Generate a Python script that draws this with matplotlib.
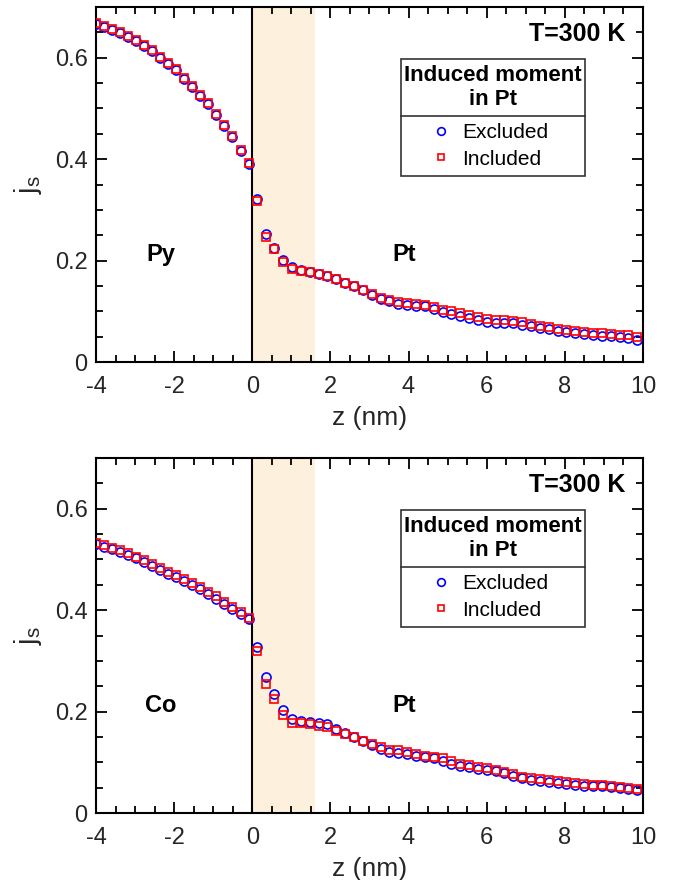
import matplotlib
matplotlib.use("Agg")
import matplotlib.pyplot as plt
from matplotlib.patches import Rectangle
from matplotlib.lines import Line2D

plt.rcParams['font.family'] = ['Liberation Sans', 'DejaVu Sans']
plt.rcParams['mathtext.fontset'] = 'custom'
plt.rcParams['mathtext.rm'] = 'Liberation Sans'
plt.rcParams['axes.unicode_minus'] = False

# layer positions (nm): ferromagnet side and Pt side
z_fm = [-4.000, -3.795, -3.589, -3.384, -3.178, -2.973, -2.767, -2.562, -2.356, -2.151,
        -1.945, -1.740, -1.534, -1.329, -1.123, -0.918, -0.712, -0.507, -0.301, -0.096]
z_pt = [0.113, 0.340, 0.566, 0.793, 1.019, 1.246, 1.472, 1.699, 1.925, 2.152,
        2.378, 2.605, 2.831, 3.058, 3.284, 3.511, 3.737, 3.964, 4.190, 4.417,
        4.643, 4.870, 5.096, 5.323, 5.549, 5.776, 6.002, 6.229, 6.455, 6.682,
        6.908, 7.135, 7.361, 7.588, 7.814, 8.041, 8.267, 8.494, 8.720, 8.947,
        9.173, 9.400, 9.626, 9.853]

# Py/Pt spin current
py_excl = [0.667, 0.661, 0.654, 0.648, 0.641, 0.633, 0.624, 0.613, 0.600, 0.588,
           0.575, 0.559, 0.543, 0.525, 0.508, 0.487, 0.466, 0.443, 0.416, 0.390]
py_incl = [0.669, 0.663, 0.656, 0.650, 0.643, 0.635, 0.626, 0.615, 0.602, 0.590,
           0.577, 0.561, 0.545, 0.527, 0.510, 0.489, 0.468, 0.445, 0.418, 0.392]
ptpy_excl = [0.322, 0.253, 0.225, 0.202, 0.187, 0.182, 0.178, 0.174, 0.170, 0.164,
             0.156, 0.149, 0.143, 0.133, 0.125, 0.120, 0.115, 0.112, 0.110, 0.110,
             0.105, 0.099, 0.095, 0.091, 0.086, 0.083, 0.079, 0.077, 0.077, 0.076,
             0.074, 0.071, 0.068, 0.065, 0.062, 0.060, 0.057, 0.055, 0.053, 0.052,
             0.051, 0.050, 0.048, 0.044]
ptpy_incl = [0.317, 0.246, 0.223, 0.197, 0.184, 0.180, 0.178, 0.174, 0.170, 0.163,
             0.155, 0.149, 0.143, 0.135, 0.127, 0.122, 0.118, 0.116, 0.114, 0.113,
             0.108, 0.103, 0.100, 0.096, 0.092, 0.088, 0.084, 0.082, 0.082, 0.081,
             0.079, 0.075, 0.072, 0.069, 0.066, 0.064, 0.062, 0.060, 0.058, 0.057,
             0.056, 0.054, 0.053, 0.049]

# Co/Pt spin current
co_excl = [0.530, 0.525, 0.520, 0.515, 0.509, 0.502, 0.495, 0.488, 0.480, 0.472,
           0.465, 0.457, 0.449, 0.441, 0.432, 0.423, 0.413, 0.403, 0.393, 0.382]
co_incl = [0.532, 0.528, 0.523, 0.518, 0.512, 0.505, 0.498, 0.491, 0.484, 0.476,
           0.469, 0.461, 0.453, 0.445, 0.436, 0.427, 0.417, 0.407, 0.397, 0.385]
ptco_excl = [0.328, 0.269, 0.235, 0.203, 0.185, 0.182, 0.180, 0.177, 0.175, 0.166,
             0.158, 0.150, 0.143, 0.134, 0.127, 0.121, 0.119, 0.116, 0.112, 0.110,
             0.108, 0.103, 0.097, 0.093, 0.090, 0.087, 0.085, 0.082, 0.078, 0.074,
             0.069, 0.066, 0.064, 0.062, 0.060, 0.058, 0.056, 0.054, 0.053, 0.053,
             0.051, 0.050, 0.048, 0.045]
ptco_incl = [0.319, 0.254, 0.224, 0.193, 0.178, 0.177, 0.175, 0.171, 0.170, 0.162,
             0.156, 0.149, 0.143, 0.137, 0.131, 0.125, 0.124, 0.120, 0.116, 0.113,
             0.111, 0.108, 0.102, 0.097, 0.094, 0.091, 0.088, 0.085, 0.081, 0.077,
             0.072, 0.069, 0.068, 0.066, 0.064, 0.062, 0.060, 0.058, 0.056, 0.055,
             0.053, 0.052, 0.050, 0.047]

panels = [
    ("Py", py_excl, py_incl, ptpy_excl, ptpy_incl, [0.1424, 0.5886, 0.8116, 0.4034]),
    ("Co", co_excl, co_incl, ptco_excl, ptco_incl, [0.1424, 0.0761, 0.8116, 0.4034]),
]

fig = plt.figure(figsize=(6.74, 8.8), dpi=100)

for fm, fm_ex, fm_in, pt_ex, pt_in, rect in panels:
    ax = fig.add_axes(rect)
    ax.axvspan(0, 1.6, color='#fdf0dc', lw=0, zorder=0)
    ax.axvline(0, color='k', lw=1.5, zorder=1)

    ax.plot(z_fm + z_pt, fm_ex + pt_ex, 'o', ls='none', mfc='none', mec='#0000ff',
            ms=6.5, mew=1.2, zorder=3, label='Excluded')
    ax.plot(z_fm + z_pt, fm_in + pt_in, 's', ls='none', mfc='none', mec='#ff0000',
            ms=5.5, mew=1.2, zorder=4, label='Included')

    ax.set_xlim(-4, 10)
    ax.set_ylim(0, 0.7)
    ax.set_xticks([-4, -2, 0, 2, 4, 6, 8, 10])
    ax.set_yticks([0, 0.2, 0.4, 0.6])
    ax.set_yticklabels(['0', '0.2', '0.4', '0.6'])
    ax.set_xticks([x / 2 for x in range(-8, 21)], minor=True)
    ax.set_yticks([y / 20 for y in range(0, 15)], minor=True)
    ax.tick_params(which='both', direction='in', top=True, right=True,
                   labelsize=17, labelcolor='#262626', width=1.3)
    ax.tick_params(which='major', length=8)
    ax.tick_params(which='minor', length=5)
    ax.tick_params(axis='y', which='major', pad=6)
    ax.tick_params(axis='x', which='major', pad=10)
    for s in ax.spines.values():
        s.set_linewidth(1.5)

    ax.set_xlabel('z (nm)', fontsize=19, color='#262626', labelpad=6)
    ax.set_ylabel(r'$\mathregular{j_s}$', fontsize=21, color='#262626', labelpad=8)

    ax.text(-2.35, 0.212, fm, fontsize=17, fontweight='bold', ha='center', va='center')
    ax.text(3.9, 0.212, 'Pt', fontsize=17, fontweight='bold', ha='center', va='center')
    ax.text(9.56, 0.647, 'T=300 K', fontsize=18, fontweight='bold', ha='right', va='center')

    # legend box with a title row
    x0, y0, w, h, ysep = 0.5576, 0.524, 0.3364, 0.3295, 0.693
    ax.add_patch(Rectangle((x0, y0), w, h, transform=ax.transAxes, fc='white',
                           ec='#333333', lw=1.2, zorder=5))
    ax.add_line(Line2D([x0, x0 + w], [ysep, ysep], transform=ax.transAxes,
                       color='#333333', lw=1.2, zorder=6))
    ax.text(x0 + w / 2, (ysep + y0 + h) / 2, 'Induced moment\nin Pt', transform=ax.transAxes,
            fontsize=16, fontweight='bold', ha='center', va='center', linespacing=1.15, zorder=7)
    leg = ax.legend(loc='center', bbox_to_anchor=(x0 + w / 2 - 0.005, (y0 + ysep) / 2),
                    frameon=False, fontsize=15, handlelength=0.8, handletextpad=0.6,
                    labelspacing=0.35, borderaxespad=0, markerscale=0.85)
    leg.set_zorder(8)

fig.savefig('out.png', dpi=100)
